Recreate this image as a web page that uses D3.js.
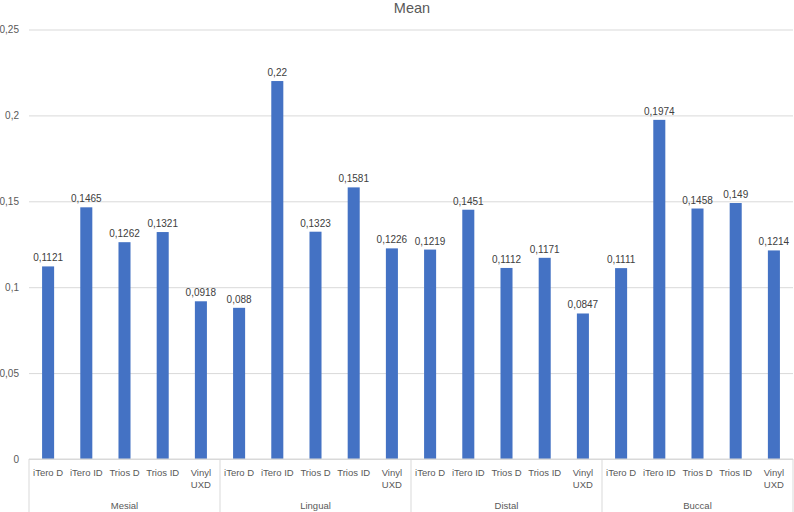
<!DOCTYPE html>
<html>
<head>
<meta charset="utf-8">
<script src="https://cdn.jsdelivr.net/npm/d3@7"></script>
<style>
body { margin: 0; background: #fff; }
text { font-family: "Liberation Sans", Arial, sans-serif; }
</style>
</head>
<body>
<div id="chart"></div>
<script>
// données du graphique
var groups = ["Mesial", "Lingual", "Distal", "Buccal"];
var scanners = ["iTero D", "iTero ID", "Trios D", "Trios ID", "Vinyl UXD"];
var mesial = [0.1121, 0.1465, 0.1262, 0.1321, 0.0918];
var lingual = [0.088, 0.22, 0.1323, 0.1581, 0.1226];
var distal = [0.1219, 0.1451, 0.1112, 0.1171, 0.0847];
var buccal = [0.1111, 0.1974, 0.1458, 0.149, 0.1214];
var yTicks = [0, 0.05, 0.1, 0.15, 0.2, 0.25];

var width = 794, height = 512;
var margin = {top: 29.5, right: 1, bottom: 53, left: 29};

// table à plat : une ligne par barre
var series = [mesial, lingual, distal, buccal];
var rows = [];
groups.forEach(function (g, gi) {
    scanners.forEach(function (s, si) {
        rows.push({group: g, scanner: s, key: g + "|" + s, value: series[gi][si]});
    });
});

var svg = d3.select("#chart").append("svg")
    .attr("width", width)
    .attr("height", height);

var x = d3.scaleBand()
    .domain(rows.map(function (d) { return d.key; }))
    .range([margin.left, width - margin.right])
    .paddingInner(0.685)
    .paddingOuter(0.3425);

var xGroup = d3.scaleBand()
    .domain(groups)
    .range([margin.left, width - margin.right]);

var y = d3.scaleLinear()
    .domain([0, 0.25])
    .range([height - margin.bottom, margin.top]);

var fmt = function (v) { return String(+v.toFixed(4)).replace(".", ","); };

// titre
svg.append("text")
    .attr("x", (margin.left + width - margin.right) / 2 + 1)
    .attr("y", 13)
    .attr("text-anchor", "middle")
    .style("font-size", "14.5px")
    .style("fill", "#595959")
    .text("Mean");

// grille horizontale + étiquettes de l'axe y
var yAxis = svg.append("g")
    .attr("transform", "translate(" + margin.left + ",0)")
    .call(d3.axisLeft(y).tickValues(yTicks)
        .tickSize(-(width - margin.left - margin.right))
        .tickFormat(fmt));
yAxis.select(".domain").remove();
yAxis.selectAll(".tick line").attr("stroke", "#d9d9d9");
yAxis.selectAll(".tick text")
    .attr("x", -10)
    .style("font-size", "10px")
    .style("fill", "#595959");

// barres
svg.selectAll("rect.bar")
    .data(rows)
    .enter().append("rect")
    .attr("class", "bar")
    .attr("x", function (d) { return x(d.key); })
    .attr("width", x.bandwidth())
    .attr("y", function (d) { return y(d.value); })
    .attr("height", function (d) { return y(0) - y(d.value); })
    .attr("fill", "#4472C4");

// étiquettes de valeur
svg.selectAll("text.val")
    .data(rows)
    .enter().append("text")
    .attr("class", "val")
    .attr("x", function (d) { return x(d.key) + x.bandwidth() / 2; })
    .attr("y", function (d) { return y(d.value) - 5; })
    .attr("text-anchor", "middle")
    .style("font-size", "10px")
    .style("fill", "#404040")
    .text(function (d) { return fmt(d.value); });

// axe x à deux niveaux
var axisG = svg.append("g");
axisG.append("line")
    .attr("x1", margin.left).attr("x2", width - margin.right)
    .attr("y1", y(0)).attr("y2", y(0))
    .attr("stroke", "#d9d9d9");

var bounds = groups.map(function (g) { return xGroup(g); });
bounds.push(width - margin.right);
axisG.selectAll("line.sep")
    .data(bounds)
    .enter().append("line")
    .attr("class", "sep")
    .attr("x1", function (d) { return d; }).attr("x2", function (d) { return d; })
    .attr("y1", y(0)).attr("y2", height)
    .attr("stroke", "#d9d9d9");

var catLabels = axisG.selectAll("text.cat")
    .data(rows)
    .enter().append("text")
    .attr("class", "cat")
    .attr("text-anchor", "middle")
    .attr("transform", function (d) {
        return "translate(" + (x(d.key) + x.bandwidth() / 2) + "," + (y(0) + 17) + ")";
    })
    .style("font-size", "9.5px")
    .style("fill", "#595959");
catLabels.each(function (d) {
    var parts = d.scanner === "Vinyl UXD" ? ["Vinyl", "UXD"] : [d.scanner];
    var t = d3.select(this);
    parts.forEach(function (p, i) {
        t.append("tspan").attr("x", 0).attr("dy", i ? 12 : 0).text(p);
    });
});

axisG.selectAll("text.grp")
    .data(groups)
    .enter().append("text")
    .attr("class", "grp")
    .attr("x", function (g) { return xGroup(g) + xGroup.bandwidth() / 2; })
    .attr("y", y(0) + 50)
    .attr("text-anchor", "middle")
    .style("font-size", "9.5px")
    .style("fill", "#595959")
    .text(function (g) { return g; });
</script>
</body>
</html>
